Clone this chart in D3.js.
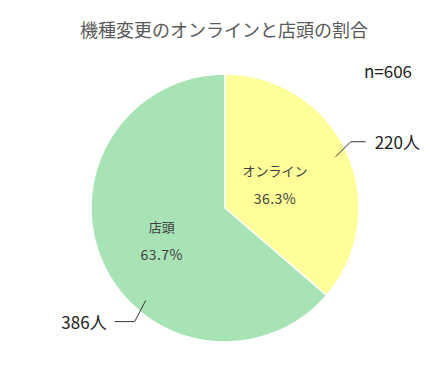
<!DOCTYPE html>
<html><head><meta charset="utf-8">
<script src="https://cdn.jsdelivr.net/npm/d3@7"></script>
<style>html,body{margin:0;padding:0;background:#fff;}svg{display:block;font-family:"Noto Sans CJK JP","Noto Sans",sans-serif;}</style>
</head><body>
<script>
const categories = ["オンライン", "店頭"];
const counts = [220, 386];
const percents = ["36.3%", "63.7%"];
const colors = ["#FFFF99", "#A8E3B6"];
const title = "機種変更のオンラインと店頭の割合";
const nLabel = "n=606";

const W = 447, H = 388;
const svg = d3.select("body").append("svg").attr("width", W).attr("height", H);
const cx = 225, cy = 208, R = 134;

svg.append("text").attr("x", 224).attr("y", 37).attr("text-anchor", "middle")
  .attr("font-size", 18).attr("fill", "#595959").text(title);
svg.append("text").attr("x", 388).attr("y", 78).attr("text-anchor", "middle")
  .attr("font-size", 17).attr("fill", "#222").text(nLabel);

const data = categories.map((c, i) => ({c, v: counts[i], p: percents[i], col: colors[i]}));
const pie = d3.pie().value(d => d.v).sort(null);
const arcs = pie(data);
const arc = d3.arc().innerRadius(0).outerRadius(R);
const g = svg.append("g").attr("transform", `translate(${cx},${cy})`);
g.selectAll("path").data(arcs).join("path").attr("d", arc)
  .attr("fill", d => d.data.col).attr("stroke", "#fff").attr("stroke-width", 1.5);

const labelR = [0.41, 0.52];
const labelDy = [0, 4];
arcs.forEach((a, i) => {
  const m = (a.startAngle + a.endAngle) / 2;
  const x = Math.sin(m) * R * labelR[i], y = -Math.cos(m) * R * labelR[i] + labelDy[i];
  g.append("text").attr("x", x).attr("y", y - 9).attr("text-anchor", "middle")
    .attr("font-size", 13).attr("fill", "#404040").text(a.data.c);
  g.append("text").attr("x", x).attr("y", y + 19).attr("text-anchor", "middle")
    .attr("font-size", 14).attr("letter-spacing", 0.5).attr("fill", "#404040").text(a.data.p);
});

// leader lines and outside labels
const leaderAng = [1.137, 3.85];
arcs.forEach((a, i) => {
  const ang = leaderAng[i];
  const p0 = [Math.sin(ang) * R * 0.91, -Math.cos(ang) * R * 0.91];
  if (i === 0) {
    const p1 = [p0[0] + 15, p0[1] - 15];
    const p2 = [p1[0] + 15, p1[1]];
    g.append("polyline").attr("points", [p0, p1, p2].map(p => p.join(",")).join(" "))
      .attr("fill", "none").attr("stroke", "#333").attr("stroke-width", 1);
    g.append("text").attr("x", p2[0] + 9).attr("y", p2[1] + 7).attr("font-size", 17)
      .attr("fill", "#222").text(a.data.v + "人");
  } else {
    const p1 = [p0[0] - 11, p0[1] + 21];
    const p2 = [p1[0] - 20, p1[1]];
    g.append("polyline").attr("points", [p0, p1, p2].map(p => p.join(",")).join(" "))
      .attr("fill", "none").attr("stroke", "#333").attr("stroke-width", 1);
    g.append("text").attr("x", p2[0] - 8).attr("y", p2[1] + 7).attr("text-anchor", "end")
      .attr("font-size", 17).attr("fill", "#222").text(a.data.v + "人");
  }
});
</script>
</body></html>
